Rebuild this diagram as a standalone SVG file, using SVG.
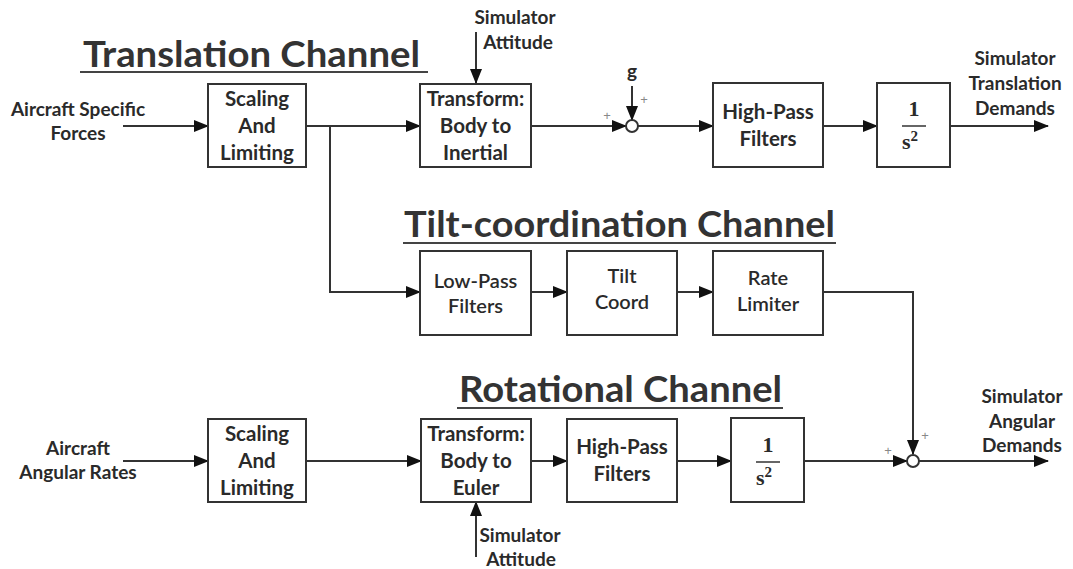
<svg xmlns="http://www.w3.org/2000/svg" width="1073" height="569" viewBox="0 0 1073 569">
<style>
.box{fill:#fff;stroke:#333;stroke-width:2}
.lbl{font-family:Lato,"Open Sans","Liberation Sans",sans-serif;font-weight:bold;font-size:20.5px;fill:#2a2a2a;text-anchor:middle}
.lbln{font-family:Lato,"Open Sans","Liberation Sans",sans-serif;font-weight:600;font-size:20px;fill:#2a2a2a;text-anchor:middle}
.side{font-family:Lato,"Open Sans","Liberation Sans",sans-serif;font-weight:bold;font-size:19px;fill:#2a2a2a;text-anchor:middle}
.title{font-family:Lato,"Open Sans","Liberation Sans",sans-serif;font-weight:bold;font-size:36px;fill:#333}
.ul{stroke:#444;stroke-width:2}
.frac{font-family:"Liberation Serif","DejaVu Serif",serif;font-weight:bold;font-size:22px;fill:#2a2a2a;text-anchor:middle}
.plus{font-family:"Liberation Sans",sans-serif;font-size:13px;fill:#888;text-anchor:middle}
.wire{fill:none;stroke:#333;stroke-width:2}
.arr{fill:none;stroke:#333;stroke-width:2;marker-end:url(#ah)}
.sum{fill:#fff;stroke:#333;stroke-width:2}
</style>
<defs>
<marker id="ah" markerUnits="userSpaceOnUse" markerWidth="16" markerHeight="14" refX="14" refY="6" orient="auto">
<path d="M0,0 L15,6 L0,12 Z" fill="#111"/>
</marker>
</defs>
<rect width="1073" height="569" fill="#fff"/>

<!-- titles -->
<g id="title-translation">
<text class="title" x="83" y="67" textLength="337" lengthAdjust="spacingAndGlyphs">Translation Channel</text>
<line class="ul" x1="80" y1="72" x2="428" y2="72"/>
</g>
<g id="title-tilt">
<text class="title" x="404" y="237" textLength="431" lengthAdjust="spacingAndGlyphs">Tilt-coordination Channel</text>
<line class="ul" x1="403" y1="243" x2="836" y2="243"/>
</g>
<g id="title-rotational">
<text class="title" x="459" y="402" textLength="323" lengthAdjust="spacingAndGlyphs">Rotational Channel</text>
<line class="ul" x1="457" y1="408" x2="783" y2="408"/>
</g>

<!-- connectors -->
<g id="connectors">
<line class="arr" x1="123" y1="126" x2="208" y2="126"/>
<line class="arr" x1="306" y1="126" x2="420" y2="126"/>
<polyline class="arr" points="330,126 330,292 420,292"/>
<line class="arr" x1="476" y1="32" x2="476" y2="83"/>
<line class="arr" x1="531" y1="126" x2="626" y2="126"/>
<line class="arr" x1="632" y1="86" x2="632" y2="120"/>
<line class="arr" x1="638" y1="126" x2="713" y2="126"/>
<line class="arr" x1="823" y1="126" x2="877" y2="126"/>
<line class="arr" x1="950" y1="126" x2="1048" y2="126"/>

<line class="arr" x1="531" y1="292" x2="567" y2="292"/>
<line class="arr" x1="677" y1="292" x2="713" y2="292"/>
<polyline class="arr" points="823,292 913,292 913,454"/>

<line class="arr" x1="123" y1="461" x2="208" y2="461"/>
<line class="arr" x1="306" y1="461" x2="421" y2="461"/>
<line class="arr" x1="476" y1="557" x2="476" y2="502"/>
<line class="arr" x1="531" y1="461" x2="567" y2="461"/>
<line class="arr" x1="677" y1="461" x2="731" y2="461"/>
<line class="arr" x1="804" y1="461" x2="907" y2="461"/>
<line class="arr" x1="919" y1="461" x2="1048" y2="461"/>

<text class="plus" x="607" y="120">+</text>
<text class="plus" x="644" y="104">+</text>
<text class="plus" x="888" y="455">+</text>
<text class="plus" x="925" y="440">+</text>
</g>

<!-- sums -->
<g id="sum1"><circle class="sum" cx="632" cy="126" r="6"/></g>
<g id="sum2"><circle class="sum" cx="913" cy="461" r="6"/></g>

<!-- external labels -->
<g id="in-forces">
<text class="side" x="78" y="116">Aircraft Specific</text>
<text class="side" x="78" y="140">Forces</text>
</g>
<g id="in-rates">
<text class="side" x="78" y="455">Aircraft</text>
<text class="side" x="78" y="479">Angular Rates</text>
</g>
<g id="att-top">
<text class="side" x="515" y="24">Simulator</text>
<text class="side" x="518" y="49">Attitude</text>
</g>
<g id="att-bottom">
<text class="side" x="520" y="542">Simulator</text>
<text class="side" x="521" y="566">Attitude</text>
</g>
<g id="g-label"><text class="side" x="632" y="78">g</text></g>
<g id="out-translation">
<text class="side" x="1015" y="65">Simulator</text>
<text class="side" x="1015" y="90">Translation</text>
<text class="side" x="1015" y="115">Demands</text>
</g>
<g id="out-angular">
<text class="side" x="1022" y="403">Simulator</text>
<text class="side" x="1022" y="428">Angular</text>
<text class="side" x="1022" y="452">Demands</text>
</g>

<!-- row 1 -->
<g id="scale1">
<rect class="box" x="208" y="84" width="98" height="83"/>
<text class="lbl" x="257" y="106">Scaling</text>
<text class="lbl" x="257" y="133">And</text>
<text class="lbl" x="257" y="160">Limiting</text>
</g>
<g id="transform1">
<rect class="box" x="420" y="84" width="111" height="83"/>
<text class="lbl" x="475.5" y="106">Transform:</text>
<text class="lbl" x="475.5" y="133">Body to</text>
<text class="lbl" x="475.5" y="160">Inertial</text>
</g>
<g id="hpf1">
<rect class="box" x="713" y="83" width="110" height="84"/>
<text class="lbl" x="768" y="119">High-Pass</text>
<text class="lbl" x="768" y="146">Filters</text>
</g>
<g id="int1">
<rect class="box" x="877" y="83" width="73" height="84"/>
<text class="frac" x="914" y="116">1</text>
<line x1="902" y1="126" x2="926" y2="126" stroke="#333" stroke-width="1.5"/>
<text class="frac" x="910" y="149">s<tspan font-size="15" dy="-8">2</tspan></text>
</g>

<!-- row 2 -->
<g id="lpf">
<rect class="box" x="420" y="251" width="111" height="84"/>
<text class="lbln" x="475.5" y="288">Low-Pass</text>
<text class="lbln" x="475.5" y="313">Filters</text>
</g>
<g id="tilt">
<rect class="box" x="567" y="251" width="110" height="84"/>
<text class="lbln" x="622" y="283">Tilt</text>
<text class="lbln" x="622" y="309">Coord</text>
</g>
<g id="ratelim">
<rect class="box" x="713" y="251" width="110" height="84"/>
<text class="lbln" x="768" y="285">Rate</text>
<text class="lbln" x="768" y="311">Limiter</text>
</g>

<!-- row 3 -->
<g id="scale2">
<rect class="box" x="208" y="419" width="98" height="83"/>
<text class="lbl" x="257" y="441">Scaling</text>
<text class="lbl" x="257" y="468">And</text>
<text class="lbl" x="257" y="495">Limiting</text>
</g>
<g id="transform2">
<rect class="box" x="421" y="419" width="110" height="83"/>
<text class="lbl" x="476" y="441">Transform:</text>
<text class="lbl" x="476" y="468">Body to</text>
<text class="lbl" x="476" y="495">Euler</text>
</g>
<g id="hpf2">
<rect class="box" x="567" y="419" width="110" height="83"/>
<text class="lbl" x="622" y="454">High-Pass</text>
<text class="lbl" x="622" y="481">Filters</text>
</g>
<g id="int2">
<rect class="box" x="731" y="418" width="73" height="84"/>
<text class="frac" x="768" y="452">1</text>
<line x1="756" y1="462" x2="780" y2="462" stroke="#333" stroke-width="1.5"/>
<text class="frac" x="764" y="485">s<tspan font-size="15" dy="-8">2</tspan></text>
</g>
</svg>
